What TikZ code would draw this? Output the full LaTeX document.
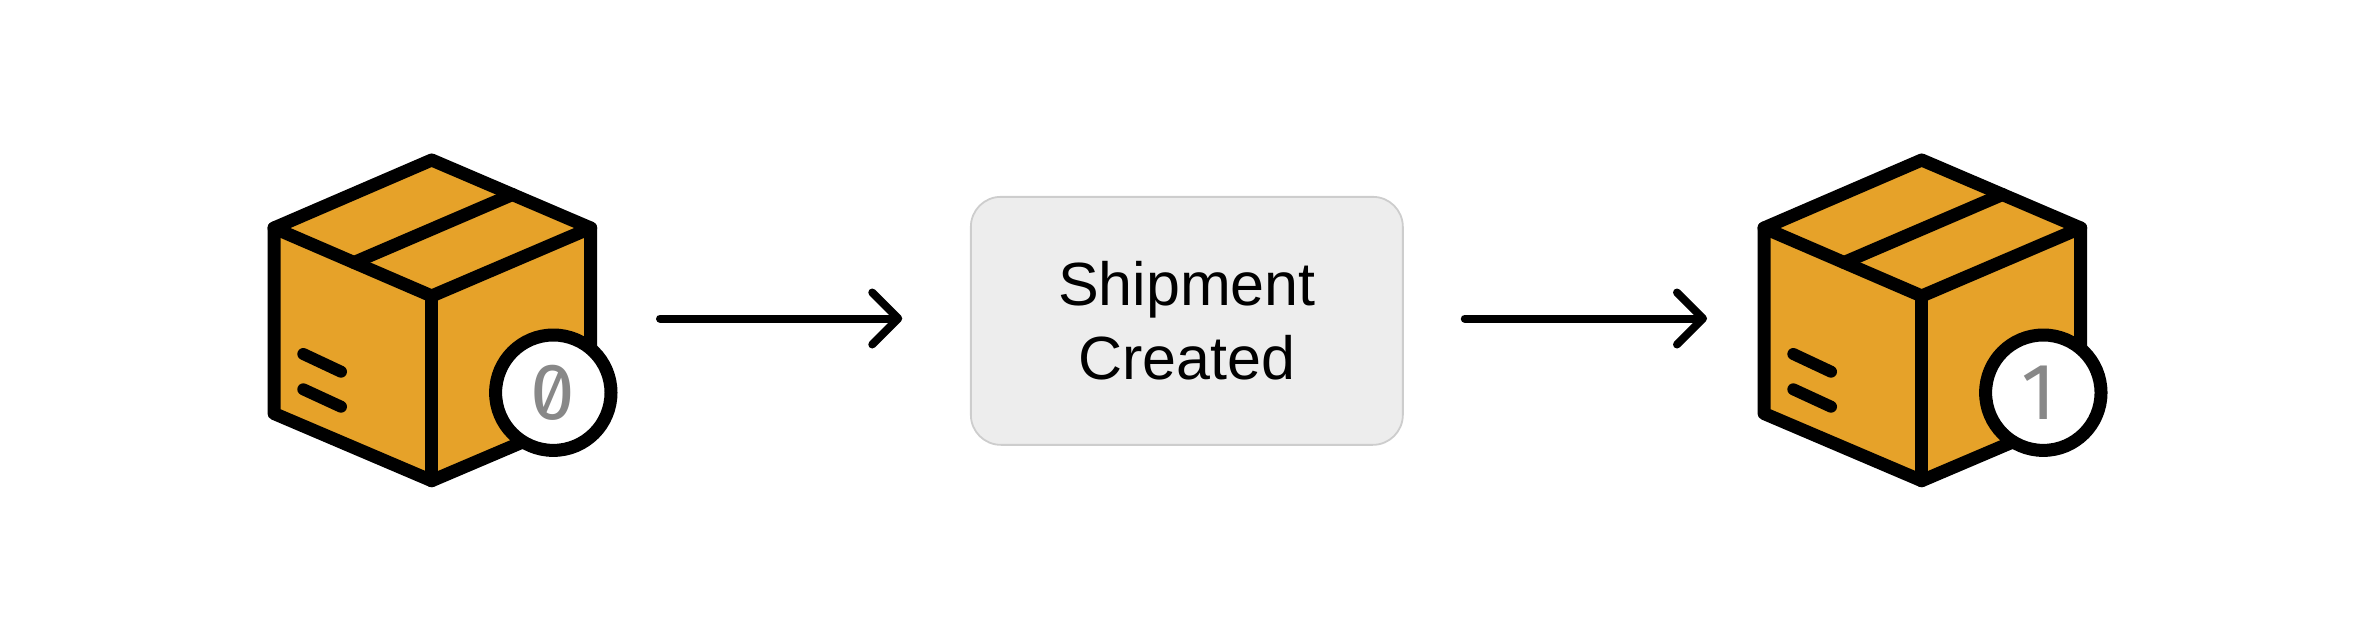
\documentclass[tikz,border=0pt]{standalone}
\usepackage{fontspec}
\setmainfont{Liberation Sans}
\newfontfamily\digitfont[Numbers=SlashedZero]{Fira Sans}
\usetikzlibrary{arrows.meta}
\definecolor{parcelfill}{HTML}{E6A229}
\definecolor{eventfill}{HTML}{EDEDED}
\definecolor{eventline}{HTML}{CDCDCD}
\definecolor{digitgray}{HTML}{888888}
\tikzset{
    parcelline/.style={line width=6.5pt, line join=round, line cap=round},
    labelline/.style={line width=6pt, line cap=round},
    badge/.style={circle, draw, line width=6.5pt, fill=white, minimum size=57.7pt, inner sep=0pt, text=digitgray, font=\digitfont\fontsize{40}{40}\selectfont},
    eventbox/.style={draw=eventline, line width=0.9pt, fill=eventfill, rounded corners=15pt, minimum width=216pt, minimum height=124pt, inner sep=0pt, align=center, font=\fontsize{30.5}{37}\selectfont},
    flow/.style={line width=4pt, line cap=round, line join=round, -{Straight Barb[length=13pt, width=26pt, round]}}
}

\begin{document}
\begin{tikzpicture}[x=0.5pt, y=0.5pt]
    \useasboundingbox (0,0) rectangle (2376,-642);

    \draw[parcelline, fill=parcelfill]
    (274,-228) -- (431.7,-160) -- (590.7,-228) -- (590.7,-413) -- (431.7,-480.7) -- (274,-413.5) -- cycle;
    \draw[parcelline] (274,-228) -- (431.7,-296) -- (590.7,-228);
    \draw[parcelline] (431.7,-296) -- (431.7,-480.7);
    \draw[parcelline] (354.1,-262.5) -- (512.4,-194.5);
    \draw[labelline] (303.3,-354) -- (341,-371.7);
    \draw[labelline] (303.3,-389.3) -- (341,-406.7);
    \node[badge] (badgeA) at (553.3,-392.7) {0};

    \node[eventbox] (event) at (1186.85,-320.85) {Shipment\\Created};

    \draw[parcelline, fill=parcelfill]
    (1764,-228) -- (1921.7,-160) -- (2080.7,-228) -- (2080.7,-413) -- (1921.7,-480.7) -- (1764,-413.5) -- cycle;
    \draw[parcelline] (1764,-228) -- (1921.7,-296) -- (2080.7,-228);
    \draw[parcelline] (1921.7,-296) -- (1921.7,-480.7);
    \draw[parcelline] (1844.1,-262.5) -- (2002.4,-194.5);
    \draw[labelline] (1793.3,-354) -- (1831,-371.7);
    \draw[labelline] (1793.3,-389.3) -- (1831,-406.7);
    \node[badge] (badgeB) at (2043.3,-392.7) {1\kern 5pt};

    \coordinate (flowstart) at (660,-318.5);
    \coordinate (flowend) at (1707,-318.5);
    \draw[flow, shorten >=33.85pt] (flowstart) -- (flowstart -| event.west);
    \draw[flow, shorten <=30.5pt] (flowend -| event.east) -- (flowend);
\end{tikzpicture}
\end{document}
